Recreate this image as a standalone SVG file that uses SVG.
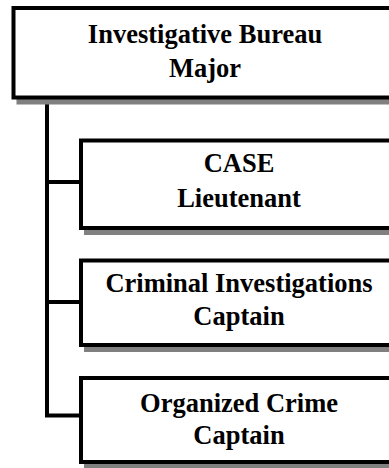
<svg xmlns="http://www.w3.org/2000/svg" width="389" height="468" viewBox="0 0 389 468">
<style>
.shadow{fill:#808080;stroke:none}
.box{fill:#ffffff;stroke:#000000;stroke-width:4}
.conn{stroke:#000000;stroke-width:4;fill:none}
text{font-family:"Liberation Serif","Times New Roman",serif;font-weight:bold;font-size:26.5px;fill:#000000;text-anchor:middle}
</style>
<rect width="389" height="468" fill="#ffffff"/>
<g id="connectors">
<path class="conn" d="M47,99 V417.5 M45,182 H81 M45,302 H81 M45,415.5 H81"/>
</g>
<g id="node-major">
<rect class="shadow" x="16.5" y="11" width="388" height="93.5"/>
<rect class="box" x="13.5" y="8" width="384" height="89.5"/>
<text x="205" y="43">Investigative Bureau</text>
<text x="205" y="77">Major</text>
</g>
<g id="node-case">
<rect class="shadow" x="84" y="143.5" width="320" height="91.5"/>
<rect class="box" x="81" y="140.5" width="316" height="87.5"/>
<text x="239" y="172">CASE</text>
<text x="239" y="207">Lieutenant</text>
</g>
<g id="node-criminal">
<rect class="shadow" x="84" y="263.5" width="320" height="88.5"/>
<rect class="box" x="81" y="260.5" width="316" height="84.5"/>
<text x="239" y="292">Criminal Investigations</text>
<text x="239" y="325">Captain</text>
</g>
<g id="node-organized">
<rect class="shadow" x="84" y="381" width="320" height="88"/>
<rect class="box" x="81" y="378" width="316" height="84"/>
<text x="239" y="411.5">Organized Crime</text>
<text x="239" y="444">Captain</text>
</g>
</svg>
